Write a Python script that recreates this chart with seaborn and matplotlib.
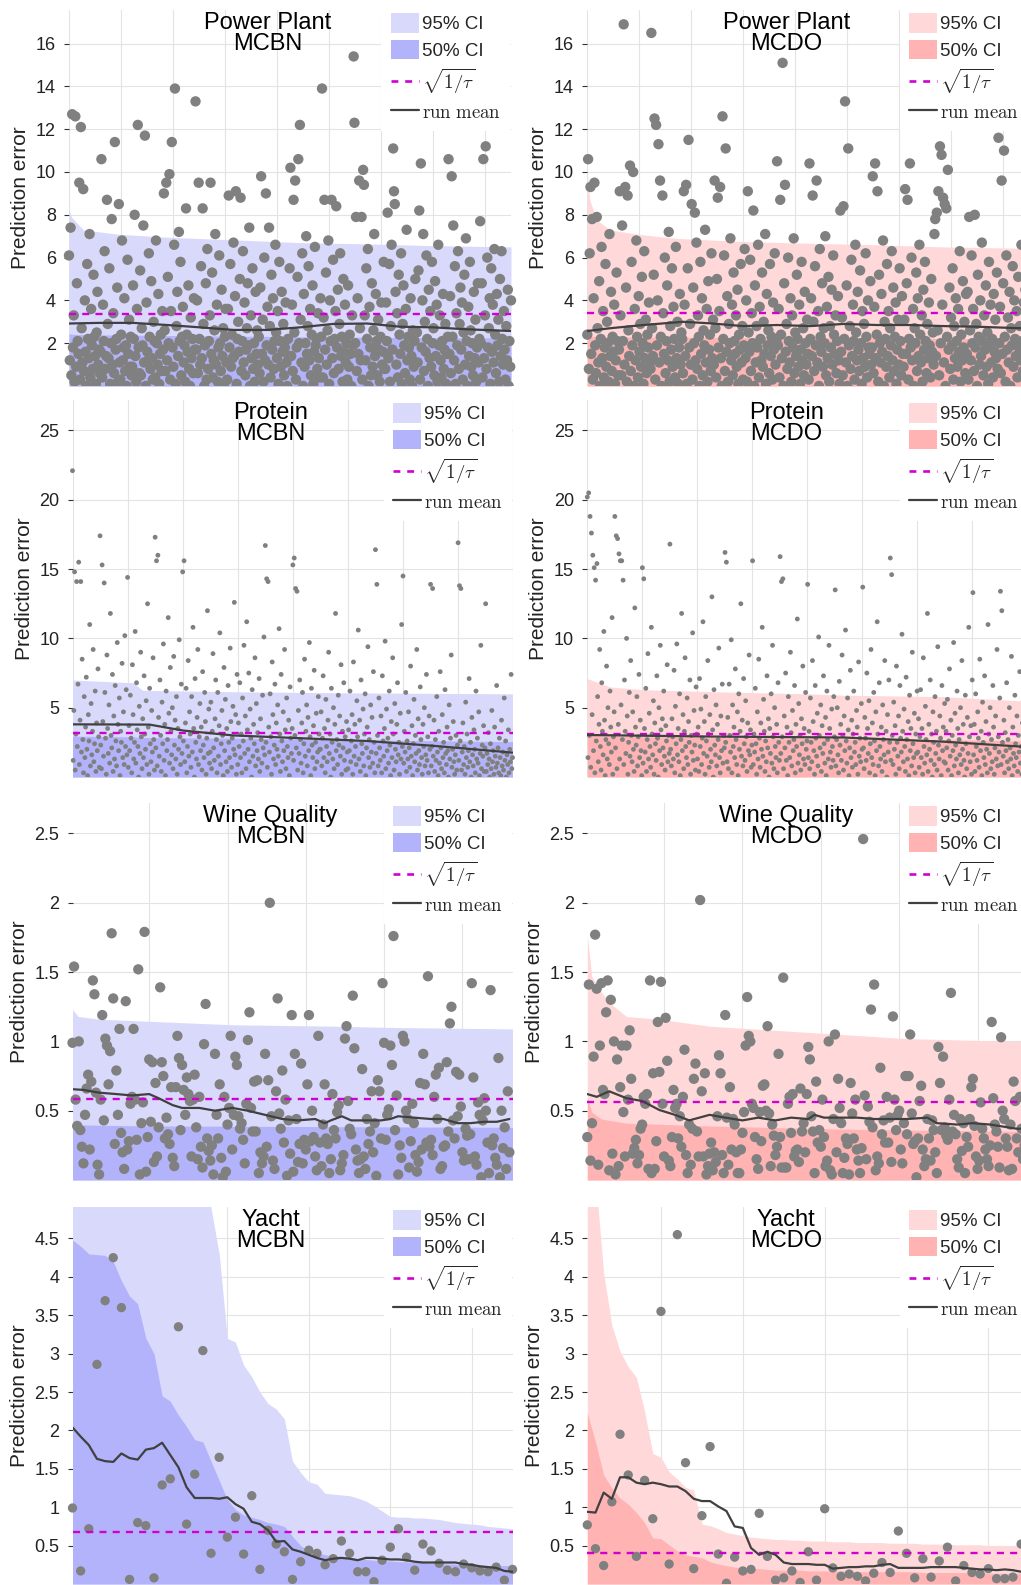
import numpy as np
import matplotlib
matplotlib.use("Agg")
import matplotlib.pyplot as plt
import seaborn as sns
from matplotlib.patches import Patch, Rectangle
from matplotlib.lines import Line2D
from matplotlib.ticker import MultipleLocator, FixedLocator, FuncFormatter

# ---------------- data ----------------
# Power Plant, prediction errors in tenths, ordered by test index
pp_mcbn_err = [
    61, 12, 74, 5, 127, 18, 33, 2, 126, 9, 48, 21, 15, 95, 3, 121, 27, 11, 92, 7, 40, 16, 0, 57, 22, 13, 71, 4, 36, 19, 8, 52, 23, 14, 1, 25, 44, 10, 17, 6,
    16, 106, 4, 38, 21, 63, 8, 14, 87, 29, 13, 55, 1, 20, 78, 10, 34, 6, 114, 17, 22, 46, 2, 85, 11, 3, 24, 68, 12, 18, 41, 7, 19, 0, 59, 15, 31, 9, 23, 5,
    9, 47, 22, 80, 14, 2, 36, 122, 18, 6, 54, 5, 27, 19, 75, 11, 117, 0, 39, 16, 12, 62, 23, 8, 49, 13, 3, 30, 21, 4, 68, 20, 10, 43, 1, 15, 24, 7, 35, 17,
    90, 26, 7, 95, 12, 51, 20, 99, 3, 35, 114, 18, 9, 66, 139, 1, 28, 44, 14, 72, 21, 58, 5, 23, 37, 11, 19, 2, 83, 24, 16, 47, 8, 0, 32, 13, 22, 6, 41, 17,
    133, 17, 40, 6, 95, 22, 10, 56, 13, 83, 29, 0, 19, 48, 3, 64, 8, 21, 33, 95, 15, 53, 4, 12, 26, 71, 10, 38, 2, 18, 61, 20, 7, 45, 14, 27, 1, 23, 36, 11,
    3, 36, 89, 18, 57, 9, 24, 13, 67, 14, 42, 91, 1, 22, 30, 16, 50, 88, 7, 21, 63, 11, 39, 5, 17, 27, 48, 19, 74, 0, 33, 13, 55, 8, 20, 2, 44, 15, 26, 10,
    23, 6, 46, 98, 15, 31, 2, 60, 12, 90, 19, 37, 10, 74, 28, 4, 52, 17, 41, 8, 21, 66, 25, 13, 35, 1, 58, 21, 9, 44, 16, 29, 5, 18, 39, 11, 0, 22, 14, 55,
    102, 14, 38, 7, 87, 25, 96, 3, 18, 51, 106, 20, 122, 31, 11, 62, 0, 43, 9, 20, 70, 15, 28, 56, 12, 36, 5, 24, 47, 1, 16, 65, 19, 22, 8, 34, 13, 4, 41, 23,
    139, 4, 32, 87, 17, 53, 10, 26, 68, 1, 40, 21, 87, 13, 59, 6, 22, 35, 84, 18, 45, 8, 29, 62, 14, 23, 2, 50, 16, 38, 11, 20, 3, 47, 9, 24, 15, 0, 33, 19,
    154, 123, 20, 79, 7, 41, 15, 96, 27, 12, 79, 3, 101, 94, 33, 12, 55, 22, 64, 0, 37, 18, 5, 48, 9, 26, 71, 14, 43, 21, 5, 31, 17, 2, 23, 39, 10, 16, 58, 8,
    8, 39, 21, 81, 13, 57, 2, 28, 66, 17, 111, 91, 85, 44, 10, 34, 4, 52, 24, 15, 62, 1, 29, 47, 19, 6, 36, 73, 12, 23, 18, 3, 41, 14, 0, 26, 9, 21, 50, 11,
    25, 11, 54, 82, 3, 104, 18, 40, 71, 7, 30, 16, 61, 22, 0, 45, 13, 35, 9, 58, 20, 27, 5, 49, 14, 38, 2, 66, 19, 33, 12, 4, 21, 43, 8, 17, 29, 1, 15, 23,
    106, 15, 42, 6, 98, 23, 75, 12, 56, 1, 34, 19, 63, 8, 29, 46, 17, 39, 3, 25, 52, 10, 69, 21, 0, 37, 14, 58, 26, 9, 20, 5, 44, 13, 31, 2, 18, 48, 11, 22,
    77, 20, 48, 4, 106, 13, 33, 112, 8, 60, 18, 27, 41, 1, 55, 16, 38, 11, 64, 24, 6, 43, 19, 31, 2, 50, 14, 63, 22, 10, 35, 17, 3, 28, 12, 45, 0, 21, 9, 40,
]
pp_mcdo_err = [
    24, 106, 8, 62, 93, 15, 78, 3, 41, 95, 19, 6, 79, 27, 11, 49, 0, 22, 65, 13, 35, 4, 18, 57, 9, 30, 20, 2, 71, 14, 44, 7, 23, 16, 38, 1, 12, 53, 21, 5,
    17, 91, 33, 5, 75, 21, 169, 10, 93, 46, 2, 89, 26, 14, 103, 7, 58, 19, 100, 0, 36, 12, 68, 23, 4, 42, 16, 29, 9, 51, 20, 1, 63, 13, 31, 6, 24, 18, 39, 11,
    8, 165, 27, 14, 52, 125, 3, 122, 19, 40, 113, 11, 96, 23, 0, 89, 34, 15, 60, 6, 21, 47, 12, 72, 2, 28, 17, 55, 9, 37, 22, 4, 65, 13, 30, 1, 18, 43, 10, 25,
    22, 6, 91, 38, 14, 94, 1, 55, 115, 18, 29, 10, 85, 3, 46, 20, 81, 12, 67, 8, 33, 23, 0, 58, 15, 41, 5, 26, 19, 73, 11, 36, 2, 49, 17, 24, 7, 62, 13, 31,
    10, 96, 27, 4, 50, 88, 18, 35, 93, 13, 0, 126, 22, 61, 7, 111, 16, 42, 2, 29, 20, 69, 12, 38, 5, 53, 21, 15, 33, 9, 45, 1, 24, 17, 57, 11, 28, 3, 19, 64,
    13, 40, 2, 91, 25, 16, 59, 7, 34, 20, 82, 0, 47, 11, 28, 18, 66, 4, 37, 22, 12, 53, 9, 30, 15, 71, 1, 43, 19, 26, 6, 57, 14, 23, 3, 39, 17, 62, 10, 21,
    105, 19, 36, 4, 87, 24, 13, 151, 0, 48, 94, 16, 29, 8, 60, 21, 11, 41, 2, 33, 18, 69, 6, 25, 14, 52, 22, 9, 38, 1, 17, 58, 12, 27, 5, 44, 20, 10, 31, 15,
    3, 104, 22, 41, 14, 89, 30, 7, 56, 19, 96, 11, 35, 0, 64, 23, 16, 48, 9, 27, 20, 70, 5, 37, 13, 51, 2, 28, 18, 45, 10, 61, 24, 15, 33, 6, 21, 42, 12, 1,
    82, 16, 32, 5, 84, 22, 133, 11, 47, 0, 111, 19, 28, 8, 59, 14, 38, 21, 3, 66, 25, 12, 44, 17, 7, 54, 20, 1, 35, 13, 29, 9, 62, 23, 4, 40, 18, 15, 49, 10,
    18, 98, 6, 37, 104, 13, 24, 91, 2, 52, 20, 11, 43, 16, 68, 0, 30, 22, 9, 57, 14, 35, 4, 27, 19, 63, 12, 46, 7, 23, 39, 1, 17, 31, 10, 55, 21, 5, 42, 15,
    9, 31, 92, 15, 48, 87, 3, 22, 104, 18, 60, 12, 36, 0, 27, 20, 53, 7, 41, 14, 66, 24, 11, 33, 2, 45, 17, 58, 21, 6, 29, 13, 39, 19, 4, 50, 16, 25, 10, 71,
    78, 14, 81, 26, 91, 5, 112, 20, 108, 38, 88, 11, 85, 0, 83, 23, 101, 17, 46, 8, 32, 19, 55, 3, 28, 13, 41, 21, 9, 36, 16, 63, 2, 24, 12, 49, 18, 30, 6, 43,
    15, 44, 3, 79, 26, 12, 61, 20, 36, 7, 80, 18, 29, 0, 52, 23, 10, 40, 14, 67, 21, 5, 33, 17, 47, 9, 25, 1, 58, 19, 38, 11, 22, 4, 43, 16, 31, 13, 53, 8,
    116, 20, 37, 6, 96, 15, 48, 110, 23, 2, 61, 17, 32, 11, 44, 0, 27, 19, 56, 9, 40, 22, 14, 35, 4, 51, 18, 28, 12, 66, 21, 7, 39, 16, 45, 1, 24, 13, 33, 10,
]
pp_mcbn_band_x = [0, 3, 18, 60, 124, 208, 292, 377, 461, 559]
pp_mcbn_ci95 = [8.25, 7.9, 7.3, 7.1, 6.95, 6.83, 6.7, 6.64, 6.56, 6.5]
pp_mcbn_ci50 = [2.45, 2.42, 2.4, 2.38, 2.36, 2.33, 2.3, 2.28, 2.26, 2.25]
pp_mcbn_mean_x = [0, 39, 81, 124, 166, 208, 250, 292, 334, 377, 419, 461, 503, 559]
pp_mcbn_mean = [2.92, 2.95, 2.95, 2.85, 2.74, 2.62, 2.62, 2.74, 2.9, 2.92, 2.77, 2.74, 2.65, 2.57]
pp_mcdo_band_x = [0, 3, 12, 29, 71, 113, 197, 282, 366, 450, 547, 559]
pp_mcdo_ci95 = [9.9, 8.7, 7.76, 7.29, 7.06, 6.9, 6.75, 6.67, 6.6, 6.5, 6.44, 6.42]
pp_mcdo_ci50 = [2.35, 2.33, 2.31, 2.3, 2.29, 2.28, 2.26, 2.25, 2.24, 2.22, 2.21, 2.2]
pp_mcdo_mean_x = [0, 29, 71, 121, 155, 197, 240, 282, 324, 366, 408, 450, 493, 547, 559]
pp_mcdo_mean = [2.57, 2.7, 2.85, 3.0, 2.93, 2.8, 2.85, 2.8, 2.9, 2.85, 2.85, 2.8, 2.77, 2.7, 2.69]
pp_tau = [3.35, 3.43]

# Protein, prediction errors in tenths
protein_mcbn_err = [
    221, 12, 48, 148, 5, 31, 141, 22, 67, 155, 9, 41, 141, 18, 85, 27, 3, 58, 14, 36, 72, 20, 1, 45, 26, 110, 8, 53, 16, 33, 92, 11, 24, 62, 4, 39, 19, 78, 29, 7,
    174, 23, 6, 153, 40, 15, 140, 61, 28, 2, 88, 35, 17, 52, 10, 118, 30, 21, 74, 4, 44, 13, 66, 26, 8, 97, 38, 19, 57, 1, 33, 25, 82, 14, 47, 9, 102, 22, 63, 16,
    144, 7, 37, 19, 59, 28, 3, 81, 45, 13, 25, 105, 10, 68, 34, 22, 0, 51, 17, 90, 29, 6, 42, 14, 73, 31, 20, 55, 9, 125, 36, 2, 64, 24, 11, 48, 18, 86, 27, 5,
    173, 21, 156, 8, 160, 43, 15, 70, 30, 4, 54, 24, 96, 12, 38, 1, 62, 19, 27, 115, 46, 10, 79, 33, 16, 50, 6, 87, 23, 41, 13, 58, 2, 35, 20, 99, 29, 9, 67, 17,
    148, 26, 156, 11, 39, 64, 3, 22, 84, 15, 47, 31, 7, 58, 18, 108, 35, 0, 71, 25, 13, 43, 92, 9, 29, 53, 19, 36, 5, 76, 23, 14, 61, 40, 2, 28, 120, 17, 49, 10,
    18, 54, 6, 33, 89, 21, 12, 42, 70, 27, 3, 61, 15, 37, 104, 9, 24, 48, 30, 1, 79, 19, 56, 11, 35, 4, 66, 25, 14, 93, 40, 7, 28, 51, 20, 126, 16, 45, 2, 74,
    9, 39, 22, 68, 14, 31, 3, 57, 26, 95, 17, 44, 6, 112, 34, 20, 75, 11, 49, 28, 0, 63, 15, 38, 24, 86, 8, 53, 19, 32, 13, 71, 4, 42, 27, 10, 59, 21, 101, 16,
    167, 25, 143, 7, 141, 36, 18, 60, 29, 2, 83, 45, 13, 23, 67, 9, 39, 20, 52, 15, 107, 31, 4, 74, 26, 11, 47, 19, 92, 34, 6, 57, 22, 14, 41, 1, 65, 28, 17, 35,
    153, 12, 158, 30, 136, 21, 134, 5, 48, 17, 70, 27, 10, 39, 61, 3, 24, 85, 15, 33, 52, 8, 43, 19, 97, 29, 1, 64, 23, 14, 37, 77, 6, 25, 46, 11, 18, 58, 31, 20,
    20, 47, 8, 28, 73, 14, 35, 3, 56, 22, 11, 41, 90, 17, 31, 0, 64, 25, 13, 50, 6, 38, 118, 19, 27, 9, 59, 23, 44, 15, 81, 2, 33, 21, 68, 12, 29, 5, 40, 18,
    6, 34, 19, 62, 11, 26, 45, 2, 83, 15, 38, 22, 9, 55, 29, 106, 13, 41, 4, 70, 24, 17, 49, 8, 31, 60, 1, 21, 36, 94, 14, 27, 7, 52, 18, 43, 10, 76, 25, 3,
    164, 17, 139, 30, 8, 57, 21, 12, 44, 3, 73, 26, 15, 35, 98, 6, 49, 19, 28, 10, 62, 23, 1, 40, 14, 86, 31, 5, 53, 20, 11, 38, 68, 16, 25, 2, 46, 13, 110, 22,
    145, 10, 33, 18, 61, 4, 26, 13, 47, 21, 7, 80, 15, 37, 1, 24, 56, 11, 30, 17, 92, 5, 42, 19, 9, 65, 27, 14, 2, 38, 22, 50, 8, 16, 74, 12, 29, 3, 44, 20,
    139, 8, 22, 136, 15, 41, 4, 27, 12, 58, 18, 1, 33, 10, 76, 21, 6, 45, 14, 25, 3, 63, 17, 9, 36, 19, 0, 52, 13, 28, 88, 7, 20, 40, 11, 2, 16, 30, 5, 23,
    169, 12, 138, 26, 136, 5, 18, 39, 9, 22, 2, 54, 14, 31, 7, 19, 71, 11, 25, 0, 43, 16, 8, 34, 20, 3, 62, 13, 28, 10, 47, 1, 17, 95, 6, 23, 15, 37, 4, 21,
    125, 4, 17, 9, 32, 13, 0, 24, 6, 48, 11, 19, 2, 36, 15, 7, 66, 10, 21, 3, 28, 14, 1, 41, 8, 18, 5, 57, 12, 26, 0, 16, 9, 34, 3, 20, 11, 74, 6, 14,
]
protein_mcdo_err = [
    202, 14, 205, 30, 188, 7, 176, 45, 160, 19, 151, 3, 142, 26, 154, 58, 11, 38, 92, 22, 5, 68, 33, 16, 105, 41, 1, 27, 80, 13, 50, 24, 9, 62, 36, 18, 115, 2, 29, 47,
    188, 21, 174, 6, 172, 38, 161, 13, 156, 52, 156, 27, 142, 9, 70, 33, 17, 100, 44, 2, 25, 61, 15, 84, 30, 11, 47, 20, 4, 122, 36, 23, 58, 8, 29, 74, 14, 41, 19, 1,
    151, 10, 143, 35, 18, 64, 4, 27, 89, 13, 46, 22, 7, 108, 31, 16, 55, 2, 39, 24, 12, 73, 28, 0, 50, 19, 95, 34, 9, 42, 21, 62, 15, 5, 37, 26, 81, 11, 30, 17,
    168, 20, 8, 42, 29, 13, 77, 3, 51, 24, 96, 16, 35, 11, 60, 1, 27, 118, 19, 45, 6, 33, 86, 22, 14, 57, 9, 40, 25, 70, 2, 30, 18, 104, 12, 48, 23, 5, 65, 31,
    13, 36, 4, 71, 22, 49, 9, 28, 112, 17, 40, 2, 58, 26, 15, 84, 31, 7, 45, 20, 11, 130, 34, 0, 63, 23, 16, 52, 8, 38, 27, 93, 14, 3, 44, 19, 67, 10, 30, 21,
    162, 25, 155, 11, 43, 6, 67, 30, 18, 99, 3, 52, 22, 36, 14, 78, 27, 9, 47, 1, 60, 20, 33, 125, 15, 41, 8, 71, 24, 12, 55, 29, 4, 39, 19, 88, 16, 34, 7, 23,
    156, 9, 31, 18, 64, 24, 2, 47, 13, 85, 28, 7, 39, 20, 108, 15, 56, 33, 4, 26, 11, 73, 21, 42, 0, 35, 17, 60, 10, 95, 29, 6, 50, 22, 14, 38, 3, 68, 25, 12,
    159, 17, 141, 29, 143, 6, 44, 21, 75, 12, 36, 1, 58, 25, 14, 90, 32, 8, 48, 19, 27, 66, 3, 38, 22, 114, 10, 53, 16, 30, 5, 42, 24, 80, 13, 35, 9, 61, 20, 26,
    139, 14, 33, 6, 57, 25, 11, 84, 40, 19, 2, 66, 28, 15, 46, 8, 101, 30, 21, 52, 4, 37, 17, 73, 24, 10, 43, 1, 62, 27, 13, 95, 35, 18, 7, 49, 22, 12, 58, 29,
    135, 8, 27, 50, 16, 3, 69, 23, 38, 12, 88, 30, 5, 44, 19, 106, 26, 10, 57, 34, 1, 21, 77, 14, 41, 7, 31, 62, 18, 25, 9, 48, 36, 2, 83, 15, 28, 11, 53, 20,
    137, 21, 6, 43, 28, 12, 75, 35, 17, 55, 3, 24, 92, 14, 39, 9, 61, 26, 1, 47, 19, 112, 31, 8, 68, 22, 13, 36, 4, 52, 27, 16, 84, 11, 33, 0, 45, 18, 70, 25,
    158, 12, 146, 30, 9, 54, 20, 37, 2, 80, 25, 15, 44, 6, 66, 28, 18, 103, 33, 11, 49, 22, 4, 72, 27, 13, 40, 1, 59, 19, 35, 8, 90, 24, 14, 46, 3, 31, 17, 62,
    18, 42, 7, 29, 63, 14, 35, 2, 86, 22, 10, 51, 27, 16, 118, 4, 38, 20, 70, 12, 31, 0, 47, 25, 9, 58, 17, 33, 5, 94, 23, 13, 44, 28, 1, 66, 19, 36, 11, 53,
    10, 33, 21, 56, 5, 26, 78, 15, 41, 1, 30, 19, 97, 8, 46, 23, 13, 62, 35, 3, 27, 16, 50, 9, 84, 20, 38, 12, 0, 59, 24, 6, 43, 17, 108, 29, 11, 37, 2, 70,
    133, 16, 38, 4, 60, 22, 12, 47, 28, 7, 85, 19, 33, 1, 54, 25, 14, 73, 9, 40, 20, 3, 110, 31, 17, 50, 6, 27, 11, 66, 36, 2, 21, 44, 13, 92, 8, 29, 18, 57,
    134, 9, 120, 25, 15, 41, 3, 32, 19, 68, 11, 27, 6, 50, 21, 13, 87, 1, 36, 17, 8, 59, 24, 14, 44, 4, 30, 18, 76, 10, 22, 2, 39, 15, 55, 7, 28, 20, 12, 48,
]
protein_mcbn_band_x = [0, 88, 102, 233, 378, 639]
protein_mcbn_ci95 = [7.0, 6.8, 6.25, 6.15, 6.08, 6.0]
protein_mcbn_ci50 = [2.95, 2.9, 2.85, 2.8, 2.7, 2.55]
protein_mcbn_mean_x = [0, 112, 161, 233, 330, 427, 524, 639]
protein_mcbn_mean = [3.8, 3.78, 3.35, 3.0, 2.8, 2.6, 2.25, 1.76]
protein_mcdo_band_x = [0, 33, 81, 178, 323, 372, 517, 628, 639]
protein_mcdo_ci95 = [7.1, 6.5, 6.3, 6.16, 6.0, 5.9, 5.8, 5.5, 5.45]
protein_mcdo_ci50 = [3.0, 2.95, 2.9, 2.85, 2.8, 2.75, 2.7, 2.6, 2.6]
protein_mcdo_mean_x = [0, 178, 372, 517, 628, 639]
protein_mcdo_mean = [3.03, 2.92, 2.85, 2.55, 2.2, 2.15]
protein_tau = [3.2, 3.1]

# Wine Quality, prediction errors in hundredths
wine_mcbn_err = [
    99, 154, 58, 39, 100, 36, 24, 12, 47, 66, 76, 22, 71, 144, 134, 63, 11, 4, 58, 119, 43, 102, 97, 69, 93, 178, 131, 26,
    79, 47, 109, 34, 20, 8, 129, 22, 28, 55, 60, 109, 58, 29, 152, 4, 41, 56, 179, 6, 31, 87, 42, 85, 13, 70, 17, 38,
    139, 85, 75, 30, 45, 33, 26, 67, 16, 10, 67, 104, 88, 36, 83, 65, 47, 74, 62, 57, 17, 58, 76, 38, 15, 60, 24, 9,
    98, 127, 30, 21, 14, 25, 4, 91, 47, 30, 69, 16, 2, 60, 6, 40, 52, 104, 22, 47, 89, 83, 46, 37, 41, 29, 12, 55,
    101, 121, 52, 35, 71, 35, 72, 5, 20, 12, 17, 91, 24, 72, 200, 46, 14, 8, 64, 131, 48, 37, 79, 27, 58, 3, 43, 19,
    119, 6, 91, 44, 13, 26, 84, 12, 29, 22, 69, 119, 28, 50, 31, 17, 7, 104, 27, 10, 40, 69, 30, 26, 5, 15, 62, 36,
    30, 49, 54, 7, 12, 18, 102, 111, 57, 37, 33, 133, 95, 22, 14, 5, 15, 80, 17, 8, 44, 26, 35, 64, 20, 41, 3, 72,
    64, 30, 142, 99, 29, 47, 51, 97, 83, 176, 36, 61, 4, 25, 16, 104, 100, 50, 44, 9, 28, 55, 41, 18, 6, 13, 70, 22,
    91, 69, 27, 147, 24, 29, 18, 60, 76, 44, 81, 8, 10, 24, 25, 85, 35, 113, 125, 43, 30, 78, 46, 76, 53, 20, 14, 37,
    32, 15, 33, 142, 74, 17, 11, 56, 47, 2, 43, 59, 50, 27, 5, 137, 25, 30, 16, 11, 88, 2, 50, 23, 38, 8, 64, 20,
]
wine_mcdo_err = [
    31, 141, 14, 41, 89, 177, 138, 11, 97, 142, 65, 62, 121, 144, 7, 130, 19, 100, 4, 87, 10, 67, 97, 49, 17, 97, 58, 108,
    73, 19, 23, 29, 12, 18, 37, 40, 60, 55, 62, 8, 144, 5, 77, 8, 28, 114, 78, 143, 55, 17, 117, 86, 14, 10, 31, 65,
    52, 55, 30, 46, 24, 60, 94, 18, 5, 40, 11, 37, 73, 84, 35, 17, 202, 64, 17, 77, 4, 10, 19, 27, 7, 20, 13, 46,
    90, 77, 18, 5, 119, 45, 11, 67, 22, 44, 40, 20, 5, 5, 22, 34, 49, 97, 132, 104, 100, 55, 52, 31, 15, 8, 49, 28,
    68, 69, 50, 111, 48, 10, 40, 32, 18, 24, 91, 31, 9, 146, 9, 9, 55, 60, 34, 62, 17, 21, 22, 13, 66, 35, 41, 20,
    62, 96, 87, 46, 35, 5, 71, 27, 36, 24, 58, 31, 10, 14, 100, 7, 4, 44, 105, 20, 73, 52, 41, 5, 16, 30, 26, 4,
    70, 48, 30, 58, 22, 14, 5, 23, 246, 61, 15, 53, 42, 123, 38, 141, 7, 17, 12, 81, 33, 43, 27, 60, 27, 45, 13, 118,
    58, 36, 47, 50, 22, 12, 41, 75, 33, 75, 105, 48, 26, 28, 2, 30, 57, 68, 22, 10, 15, 44, 30, 14, 43, 36, 20, 5,
    96, 70, 36, 89, 38, 32, 29, 58, 135, 35, 47, 33, 15, 9, 44, 21, 41, 5, 31, 24, 44, 67, 73, 39, 17, 8, 14, 56,
    37, 30, 22, 15, 10, 25, 114, 59, 40, 35, 24, 9, 103, 50, 44, 30, 24, 7, 40, 8, 71, 57, 30, 20, 60, 37, 15, 25,
]
wine_mcbn_band_x = [1, 4.6, 18, 50, 103, 166, 208, 282]
wine_mcbn_ci95 = [1.23, 1.18, 1.16, 1.145, 1.12, 1.11, 1.10, 1.09]
wine_mcbn_ci50 = [0.40, 0.398, 0.395, 0.39, 0.388, 0.385, 0.383, 0.38]
wine_mcbn_mean_x = [1, 8, 18, 29, 39, 50, 56, 65, 71, 82, 92, 103, 113, 124, 135, 145, 156, 162, 166, 173,
                    179, 187, 198, 204, 209, 219, 230, 238, 247, 255, 264, 272, 280]
wine_mcbn_mean = [0.655, 0.65, 0.63, 0.62, 0.61, 0.62, 0.59, 0.54, 0.52, 0.52, 0.50, 0.52, 0.50, 0.47, 0.44, 0.43, 0.44, 0.41, 0.43, 0.46,
                  0.43, 0.43, 0.43, 0.44, 0.46, 0.45, 0.44, 0.44, 0.41, 0.41, 0.42, 0.42, 0.44]
wine_mcdo_band95_x = [1, 3.8, 9, 15, 26, 47, 79, 121, 163, 205, 275, 282]
wine_mcdo_ci95 = [1.77, 1.47, 1.37, 1.28, 1.18, 1.16, 1.11, 1.08, 1.05, 1.02, 1.0, 1.0]
wine_mcdo_band50_x = [1, 3.8, 10, 26, 79, 150, 205, 282]
wine_mcdo_ci50 = [0.60, 0.49, 0.44, 0.41, 0.39, 0.37, 0.36, 0.35]
wine_mcdo_mean_x = [1, 7, 15, 26, 36, 47, 57, 66, 79, 89, 100, 110, 121, 131, 142, 146, 152, 163, 173, 184,
                    194, 205, 218, 224, 237, 247, 258, 275, 282]
wine_mcdo_mean = [0.62, 0.60, 0.64, 0.59, 0.57, 0.505, 0.47, 0.43, 0.47, 0.45, 0.43, 0.45, 0.43, 0.45, 0.44, 0.47, 0.45, 0.45, 0.45, 0.44,
                  0.44, 0.44, 0.45, 0.41, 0.40, 0.41, 0.40, 0.37, 0.37]
wine_tau = [0.585, 0.56]

# Yacht, one value per test point (hundredths for the errors)
yacht_mcbn_err = [99, 17, 72, 286, 369, 425, 360, 6, 80, 76, 8, 129, 137, 335, 78, 143, 304, 40, 165, 61,
                  87, 39, 115, 19, 70, 52, 42, 6, 29, 44, 40, 25, 33, 56, 40, 16, 16, 3, 31, 48,
                  72, 35, 18, 52, 43, 27, 18, 16, 26, 21, 17, 16, 22, 5, 19]
yacht_mcbn_ci95 = [6.0] * 17 + [4.9, 4.3, 3.2, 3.15, 2.85, 2.7, 2.5, 2.35, 2.28, 2.15, 1.6, 1.45, 1.33, 1.3, 1.18, 1.17, 1.16, 1.15,
                                1.12, 1.08, 1.02, 0.95, 0.88, 0.87, 0.87, 0.86, 0.86, 0.85, 0.84, 0.82, 0.80, 0.79, 0.78, 0.77,
                                0.75, 0.74, 0.73, 0.72]
yacht_mcbn_ci50 = [4.48, 4.4, 4.3, 4.29, 4.28, 4.2, 3.95, 3.75, 3.65, 3.2, 3.0, 2.45, 2.38, 2.2, 2.05, 1.88, 1.85, 1.6, 1.35, 1.1,
                   0.97, 0.9, 0.87, 0.84, 0.8, 0.78, 0.75, 0.62, 0.5, 0.43, 0.41, 0.38, 0.37, 0.36, 0.35, 0.33, 0.32, 0.31, 0.30, 0.30,
                   0.29, 0.29, 0.28, 0.28, 0.27, 0.27, 0.26, 0.26, 0.25, 0.25, 0.25, 0.24, 0.24, 0.24, 0.24]
yacht_mcbn_mean = [2.04, 1.92, 1.81, 1.63, 1.60, 1.59, 1.70, 1.64, 1.62, 1.75, 1.77, 1.84, 1.68, 1.52, 1.26, 1.12, 1.12, 1.12, 1.11, 1.13,
                   1.04, 0.98, 0.81, 0.78, 0.70, 0.55, 0.56, 0.45, 0.42, 0.38, 0.34, 0.31, 0.33, 0.34, 0.33, 0.31, 0.34, 0.34, 0.33, 0.32,
                   0.32, 0.31, 0.29, 0.28, 0.28, 0.28, 0.28, 0.28, 0.26, 0.25, 0.23, 0.22, 0.21, 0.17, 0.16]
yacht_mcdo_err = [77, 46, 24, 107, 195, 142, 36, 135, 85, 355, 26, 455, 158, 20, 89, 179, 39, 1, 35, 17,
                  19, 92, 36, 5, 8, 17, 2, 42, 5, 98, 21, 10, 13, 10, 4, 14, 28, 15, 69, 40,
                  8, 33, 9, 30, 48, 4, 24, 15, 13, 20, 7, 7, 9, 52, 30]
yacht_mcdo_ci95 = [6.0, 5.3, 4.05, 3.37, 3.03, 2.83, 2.69, 2.25, 1.70, 1.65, 1.46, 1.37, 1.26, 1.22, 0.78, 0.76, 0.72, 0.67, 0.65, 0.63,
                   0.61, 0.6, 0.59, 0.58, 0.58, 0.57, 0.57, 0.56, 0.56, 0.56, 0.55, 0.55, 0.55, 0.54, 0.54, 0.54, 0.54, 0.53, 0.53, 0.53,
                   0.53, 0.52, 0.52, 0.52, 0.52, 0.51, 0.51, 0.51, 0.51, 0.50, 0.50, 0.50, 0.50, 0.50, 0.50]
yacht_mcdo_ci50 = [2.23, 1.85, 1.42, 1.25, 1.12, 1.04, 0.93, 0.80, 0.60, 0.59, 0.51, 0.43, 0.38, 0.36, 0.34, 0.29, 0.26, 0.24, 0.22, 0.21,
                   0.20, 0.20, 0.19, 0.18, 0.18, 0.18, 0.18, 0.17, 0.17, 0.17, 0.17, 0.17, 0.17, 0.16, 0.16, 0.16, 0.16, 0.16, 0.16, 0.16,
                   0.16, 0.15, 0.15, 0.15, 0.15, 0.15, 0.15, 0.15, 0.15, 0.14, 0.14, 0.14, 0.14, 0.14, 0.14]
yacht_mcdo_mean = [0.94, 0.93, 1.19, 1.11, 1.39, 1.39, 1.32, 1.30, 1.32, 1.30, 1.27, 1.27, 1.21, 1.11, 1.08, 1.08, 1.01, 0.95, 0.75, 0.73,
                   0.47, 0.38, 0.42, 0.38, 0.28, 0.26, 0.26, 0.26, 0.25, 0.25, 0.20, 0.21, 0.22, 0.22, 0.23, 0.23, 0.25, 0.26, 0.21, 0.21,
                   0.21, 0.21, 0.22, 0.22, 0.22, 0.22, 0.21, 0.20, 0.19, 0.19, 0.18, 0.19, 0.18, 0.16, 0.16]
yacht_tau = [0.68, 0.40]

# ---------------- style ----------------
sns.set_theme(style="whitegrid")
plt.rcParams["font.family"] = ["Liberation Sans", "DejaVu Sans"]
plt.rcParams["mathtext.fontset"] = "cm"

BLUE = ("#d9d9fc", "#b3b3fb")
PINK = ("#ffd9d9", "#ffb3b3")
DOT = "#808080"
MEAN = "#404040"
TAU = "#d000d0"

fig = plt.figure(figsize=(10.21, 15.85), dpi=100)
W, H = 1021.0, 1585.0


def rect(left, top, width, bottom):
    return [left / W, 1 - bottom / H, width / W, (bottom - top) / H]


def panel(r, x, err, b95x, b95, b50x, b50, mx, my, tau, cols, title,
          ylim, yticks, xlim, xstep, dot):
    ax = fig.add_axes(r)
    ax.fill_between(b95x, 0, b95, color=cols[0], lw=0, zorder=1)
    ax.fill_between(b50x, 0, b50, color=cols[1], lw=0, zorder=1.2)
    sns.scatterplot(x=x, y=err, ax=ax, color=DOT, s=dot, linewidth=0,
                    edgecolor="none", zorder=2, legend=False)
    # markers are only cut at the bottom of the panel, not at the sides
    ax.collections[-1].set_clip_path(
        Rectangle((-0.05, 0), 1.1, 1.1, transform=ax.transAxes))
    ax.axhline(tau, color=TAU, lw=1.7, ls=(0, (3, 2.6)), zorder=3)
    sns.lineplot(x=mx, y=my, ax=ax, color=MEAN, lw=1.6, zorder=4)

    ax.set_xlim(*xlim)
    ax.set_ylim(*ylim)
    ax.xaxis.set_major_locator(MultipleLocator(xstep))
    ax.yaxis.set_major_locator(FixedLocator(yticks))
    ax.yaxis.set_major_formatter(FuncFormatter(lambda v, p: f"{v:g}"))
    ax.grid(True, color="#e3e3e3", lw=0.8)
    ax.set_axisbelow(True)
    for s in ax.spines.values():
        s.set_visible(False)
    ax.tick_params(axis="y", left=True, length=3.5, width=0.8, color="#333333",
                   pad=6, labelsize=13, labelcolor="#222222")
    ax.tick_params(axis="x", bottom=False, labelbottom=False)
    ax.set_xlabel("")
    ax.set_ylabel("Prediction error", fontsize=15, labelpad=4, color="#222222")

    ax.text(0.45, 0.995, title, transform=ax.transAxes, ha="center", va="top",
            fontsize=17, linespacing=0.95, color="black", zorder=6)

    handles = [Patch(facecolor=cols[0], edgecolor="none"),
               Patch(facecolor=cols[1], edgecolor="none"),
               Line2D([], [], color=TAU, lw=1.9, ls=(0, (2.6, 2.6))),
               Line2D([], [], color=MEAN, lw=1.6)]
    labels = ["95% CI", "50% CI", r"$\sqrt{1/\tau}$", r"$\mathrm{run\ mean}$"]
    leg = ax.legend(handles, labels, loc="upper left", bbox_to_anchor=(0.707, 1.016),
                    frameon=True, facecolor="white", edgecolor="none", framealpha=1,
                    fancybox=False, borderpad=0.5, borderaxespad=0, fontsize=13.5,
                    handlelength=1.5, handleheight=1.2, handletextpad=0.15,
                    labelspacing=0.35)
    leg.set_zorder(7)
    return ax


rows = [(10, 386), (400, 777), (803, 1180), (1207, 1584)]
left_col = [(69, 442), (72.5, 440), (72.5, 440), (72.5, 440)]
right_col = (587.3, 442)

# Power Plant
n = pp_mcbn_band_x[-1]
panel(rect(left_col[0][0], rows[0][0], left_col[0][1], rows[0][1]),
      np.arange(len(pp_mcbn_err)), np.array(pp_mcbn_err) / 10,
      pp_mcbn_band_x, pp_mcbn_ci95, pp_mcbn_band_x, pp_mcbn_ci50,
      pp_mcbn_mean_x, pp_mcbn_mean, pp_tau[0], BLUE, "Power Plant\nMCBN",
      (0, 17.57), list(range(2, 17, 2)), (0, n), n * 52 / 442, 56)
panel(rect(right_col[0], rows[0][0], right_col[1], rows[0][1]),
      np.arange(len(pp_mcdo_err)), np.array(pp_mcdo_err) / 10,
      pp_mcdo_band_x, pp_mcdo_ci95, pp_mcdo_band_x, pp_mcdo_ci50,
      pp_mcdo_mean_x, pp_mcdo_mean, pp_tau[1], PINK, "Power Plant\nMCDO",
      (0, 17.57), list(range(2, 17, 2)), (0, n), n * 52 / 442, 56)

# Protein
n = protein_mcbn_band_x[-1]
panel(rect(left_col[1][0], rows[1][0], left_col[1][1], rows[1][1]),
      np.arange(len(protein_mcbn_err)), np.array(protein_mcbn_err) / 10,
      protein_mcbn_band_x, protein_mcbn_ci95, protein_mcbn_band_x, protein_mcbn_ci50,
      protein_mcbn_mean_x, protein_mcbn_mean, protein_tau[0], BLUE, "Protein\nMCBN",
      (0, 27.2), [5, 10, 15, 20, 25], (0, n), n / 8, 12)
panel(rect(right_col[0], rows[1][0], right_col[1], rows[1][1]),
      np.arange(len(protein_mcdo_err)), np.array(protein_mcdo_err) / 10,
      protein_mcdo_band_x, protein_mcdo_ci95, protein_mcdo_band_x, protein_mcdo_ci50,
      protein_mcdo_mean_x, protein_mcdo_mean, protein_tau[1], PINK, "Protein\nMCDO",
      (0, 27.2), [5, 10, 15, 20, 25], (0, n * 442 / 440), n / 8, 12)

# Wine Quality
panel(rect(left_col[2][0], rows[2][0], left_col[2][1], rows[2][1]),
      np.arange(1, len(wine_mcbn_err) + 1), np.array(wine_mcbn_err) / 100,
      wine_mcbn_band_x, wine_mcbn_ci95, wine_mcbn_band_x, wine_mcbn_ci50,
      wine_mcbn_mean_x, wine_mcbn_mean, wine_tau[0], BLUE, "Wine Quality\nMCBN",
      (0, 2.72), [0.5, 1, 1.5, 2, 2.5], (1, 282), 50, 55)
panel(rect(right_col[0], rows[2][0], right_col[1], rows[2][1]),
      np.arange(1, len(wine_mcdo_err) + 1), np.array(wine_mcdo_err) / 100,
      wine_mcdo_band95_x, wine_mcdo_ci95, wine_mcdo_band50_x, wine_mcdo_ci50,
      wine_mcdo_mean_x, wine_mcdo_mean, wine_tau[1], PINK, "Wine Quality\nMCDO",
      (0, 2.72), [0.5, 1, 1.5, 2, 2.5], (1, 283), 50, 55)

# Yacht
yx = np.arange(1, len(yacht_mcbn_err) + 1)
panel(rect(left_col[3][0], rows[3][0], left_col[3][1], rows[3][1]),
      yx, np.array(yacht_mcbn_err) / 100,
      yx, yacht_mcbn_ci95, yx, yacht_mcbn_ci50,
      yx, yacht_mcbn_mean, yacht_tau[0], BLUE, "Yacht\nMCBN",
      (0, 4.91), [0.5, 1, 1.5, 2, 2.5, 3, 3.5, 4, 4.5], (1, 55), 10, 45)
yx2 = np.arange(1, len(yacht_mcdo_err) + 1)
panel(rect(right_col[0], rows[3][0], right_col[1], rows[3][1]),
      yx2, np.array(yacht_mcdo_err) / 100,
      yx2, yacht_mcdo_ci95, yx2, yacht_mcdo_ci50,
      yx2, yacht_mcdo_mean, yacht_tau[1], PINK, "Yacht\nMCDO",
      (0, 4.91), [0.5, 1, 1.5, 2, 2.5, 3, 3.5, 4, 4.5], (1, 55), 10, 45)

fig.savefig("out.png", dpi=100)
